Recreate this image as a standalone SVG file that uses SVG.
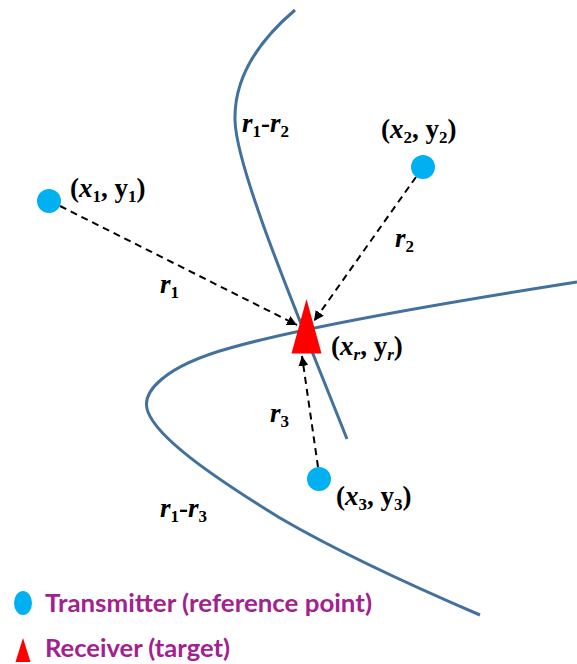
<svg xmlns="http://www.w3.org/2000/svg" width="577" height="664" viewBox="0 0 577 664">
<style>
.curve{fill:none;stroke:#41719C;stroke-width:3;stroke-linecap:butt}
.dash{fill:none;stroke:#000;stroke-width:2;stroke-dasharray:7,5}
.tx{fill:#00B0F0}
.rx{fill:#FF0000}
.m{font-family:"Liberation Serif","Times New Roman",serif;font-weight:bold;font-size:27px;fill:#000}
.it{font-style:italic}
.sub{font-size:17px}
.leg{font-family:Lato,"Liberation Sans",sans-serif;font-weight:bold;font-size:24px;fill:#A3218F}
</style>
<defs>
<marker id="ah" viewBox="0 0 10 10" refX="10" refY="5" markerWidth="5" markerHeight="5" orient="auto" markerUnits="strokeWidth">
<path d="M0,0 L10,5 L0,10 z" fill="#000"/>
</marker>
</defs>
<g id="hyperbolas">
<path id="h12" class="curve" d="M295,10 C262,38 234,75 235,120 C236,170 300,320 347,439"/>
<path id="h13" class="curve" d="M577,282 C430,305 300,328 230,348 C165,366 140,392 148,412 C158,438 210,475 280,518 C340,553 410,585 480,615"/>
</g>
<g id="connectors">
<path class="dash" d="M60,206 L297,325" marker-end="url(#ah)"/>
<path class="dash" d="M416,177 L314,321" marker-end="url(#ah)"/>
<path class="dash" d="M318,467 L302,356" marker-end="url(#ah)"/>
</g>
<g id="tx1"><circle class="tx" cx="49" cy="201" r="12"/>
<text class="m" x="70" y="197">(<tspan class="it">x</tspan><tspan class="sub" dy="5">1</tspan><tspan dy="-5">, y</tspan><tspan class="sub" dy="5">1</tspan><tspan dy="-5">)</tspan></text></g>
<g id="tx2"><circle class="tx" cx="423" cy="167" r="12"/>
<text class="m" x="381" y="138">(<tspan class="it">x</tspan><tspan class="sub" dy="5">2</tspan><tspan dy="-5">, y</tspan><tspan class="sub" dy="5">2</tspan><tspan dy="-5">)</tspan></text></g>
<g id="tx3"><circle class="tx" cx="319" cy="479" r="12"/>
<text class="m" x="336" y="505">(<tspan class="it">x</tspan><tspan class="sub" dy="5">3</tspan><tspan dy="-5">, y</tspan><tspan class="sub" dy="5">3</tspan><tspan dy="-5">)</tspan></text></g>
<g id="receiver"><polygon class="rx" points="306.5,299 291.5,353.5 321.5,353.5"/>
<text class="m" x="331" y="355">(<tspan class="it">x</tspan><tspan class="sub it" dy="5">r</tspan><tspan dy="-5">, y</tspan><tspan class="sub it" dy="5">r</tspan><tspan dy="-5">)</tspan></text></g>
<g id="labels">
<text class="m" x="160" y="293"><tspan class="it">r</tspan><tspan class="sub" dy="5">1</tspan></text>
<text class="m" x="395" y="247"><tspan class="it">r</tspan><tspan class="sub" dy="5">2</tspan></text>
<text class="m" x="270" y="422"><tspan class="it">r</tspan><tspan class="sub" dy="5">3</tspan></text>
<text class="m" x="242" y="132"><tspan class="it">r</tspan><tspan class="sub" dy="5">1</tspan><tspan dy="-5">-</tspan><tspan class="it">r</tspan><tspan class="sub" dy="5">2</tspan></text>
<text class="m" x="160" y="517"><tspan class="it">r</tspan><tspan class="sub" dy="5">1</tspan><tspan dy="-5">-</tspan><tspan class="it">r</tspan><tspan class="sub" dy="5">3</tspan></text>
</g>
<g id="legend">
<ellipse class="tx" cx="23" cy="603" rx="9" ry="12"/>
<text class="leg" x="45" y="612" textLength="327" lengthAdjust="spacingAndGlyphs">Transmitter (reference point)</text>
<polygon class="rx" points="23,638 15.5,662 30.5,662"/>
<text class="leg" x="45" y="657" textLength="185" lengthAdjust="spacingAndGlyphs">Receiver (target)</text>
</g>
</svg>
